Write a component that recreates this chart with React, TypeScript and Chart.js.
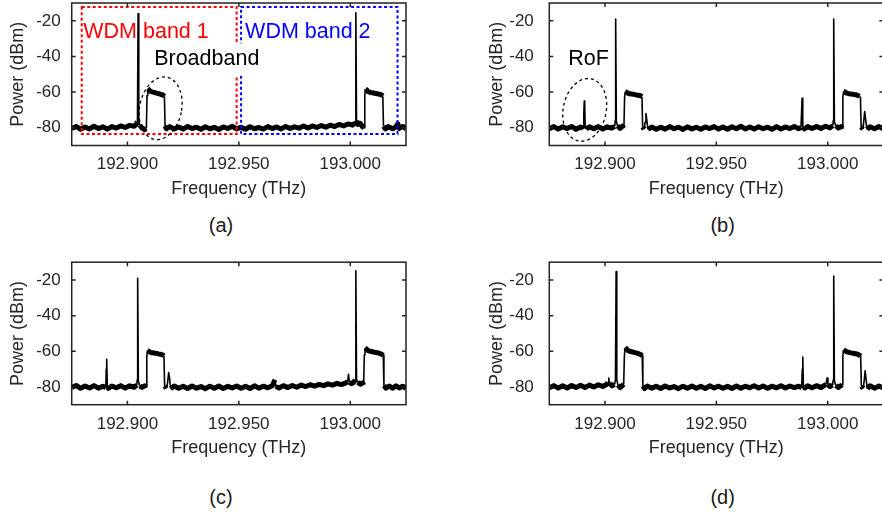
import React, { useEffect, useRef } from 'react';
import { Chart, registerables } from 'chart.js';

Chart.register(...registerables);

const FONT = '"Liberation Sans", Arial, Helvetica, sans-serif';
const TEXT_COLOR = '#262626';

const freqRange = [192.875, 193.025];
const powerRange = [-90, -10];
const freqTicks = [192.9, 192.95, 193.0];
const powerTicks = [-80, -60, -40, -20];

const spectrumA: [number, number][] = [
  [192.875,-80.4],[192.877,-79.3],[192.879,-80.9],[192.881,-79.6],[192.883,-80.7],[192.885,-79.2],[192.887,-80.5],[192.889,-79.5],[192.891,-80.8],[192.893,-79.4],[192.895,-80.2],[192.897,-79.0],[192.899,-79.9],[192.901,-78.7],[192.903,-79.2],[192.904,-78.2],
  [192.9045,-76.5],[192.9048,-16],[192.9051,-76],[192.9056,-78.5],[192.9065,-80.2],[192.9078,-81],[192.9085,-80.5],
  [192.9088,-62],[192.9091,-58.2],[192.9096,-58.6],[192.9103,-59.6],[192.911,-59.9],[192.912,-60.2],[192.913,-60.6],[192.914,-60.9],[192.915,-61.3],[192.916,-61.7],[192.9166,-62.4],
  [192.9169,-79],[192.9175,-80.6],[192.919,-79.4],[192.921,-80.7],[192.923,-79.6],[192.925,-80.8],[192.927,-79.3],[192.929,-80.5],[192.931,-79.7],[192.933,-80.9],[192.935,-79.5],[192.937,-80.6],[192.939,-79.8],[192.941,-81.0],[192.943,-79.6],[192.945,-80.4],[192.947,-79.2],[192.949,-80.7],[192.951,-79.7],[192.953,-80.9],[192.955,-79.5],[192.957,-80.6],[192.959,-79.9],[192.961,-80.8],[192.963,-79.4],[192.965,-80.5],[192.967,-79.6],[192.969,-80.7],[192.971,-79.3],[192.973,-80.4],[192.975,-79.5],[192.977,-80.3],[192.979,-79.1],[192.981,-80.2],[192.983,-79.0],[192.985,-79.9],[192.987,-78.8],[192.989,-79.7],[192.991,-78.6],[192.993,-79.4],[192.995,-78.2],[192.997,-79.0],[192.999,-77.9],[193.001,-78.6],[193.002,-77.5],
  [193.0022,-76.5],[193.0025,-15.5],[193.0028,-76],[193.0034,-78.2],[193.0045,-77.6],[193.0055,-79.5],[193.0062,-80.2],
  [193.0065,-62],[193.0068,-58.3],[193.0074,-58.8],[193.008,-59.8],[193.009,-60.2],[193.010,-60.4],[193.011,-60.7],[193.012,-60.9],[193.013,-61.2],[193.014,-61.6],[193.0146,-62.3],
  [193.0149,-79.2],[193.0158,-80.7],[193.017,-79.4],[193.019,-80.6],[193.0205,-79.5],[193.0213,-77.8],[193.022,-80.4],[193.0235,-79.3],[193.025,-80.5],
];

const spectrumB: [number, number][] = [
  [192.875,-80.6],[192.877,-79.4],[192.879,-80.8],[192.881,-79.5],[192.883,-80.5],[192.885,-79.3],[192.887,-80.9],[192.889,-79.6],[192.8902,-80.4],
  [192.8905,-72],[192.8907,-65],[192.8909,-67],[192.8911,-79.5],
  [192.8915,-80.7],[192.893,-79.5],[192.895,-80.6],[192.897,-79.4],[192.899,-80.8],[192.901,-79.5],[192.903,-80.3],[192.9044,-79.2],
  [192.9046,-76],[192.9048,-19],[192.9051,-76.5],[192.9056,-79],[192.9068,-80.4],[192.9078,-79.2],[192.9085,-80.3],
  [192.9088,-63],[192.9091,-59.8],[192.9097,-60],[192.9104,-60.8],[192.911,-61],[192.912,-61.1],[192.913,-61.3],[192.914,-61.6],[192.915,-61.8],[192.916,-62.1],[192.9166,-62.6],
  [192.9169,-79.5],[192.9176,-80.8],[192.918,-77],[192.9184,-72],[192.9188,-76],[192.9193,-81],[192.921,-79.6],[192.923,-80.9],[192.925,-79.7],[192.927,-80.8],[192.929,-79.4],[192.931,-80.6],[192.933,-79.7],[192.935,-81.0],[192.937,-79.5],[192.939,-80.7],[192.941,-79.8],[192.943,-80.9],[192.945,-79.6],[192.947,-80.5],[192.949,-79.4],[192.951,-80.8],[192.953,-79.6],[192.955,-80.9],[192.957,-79.5],[192.959,-80.6],[192.961,-79.2],[192.963,-80.7],[192.965,-79.6],[192.967,-80.8],[192.969,-79.5],[192.971,-80.6],[192.973,-79.7],[192.975,-80.9],[192.977,-79.4],[192.979,-80.7],[192.981,-79.6],[192.983,-80.5],[192.985,-79.3],[192.987,-80.6],[192.988,-79.8],
  [192.9883,-70],[192.9885,-63.5],[192.9887,-66],[192.9889,-79.5],
  [192.9895,-80.7],[192.991,-79.4],[192.993,-80.5],[192.995,-79.3],[192.997,-80.4],[192.999,-79.2],[193.001,-80.1],[193.0023,-78.8],
  [193.0025,-76],[193.0027,-19],[193.003,-76.5],[193.0036,-79],[193.0048,-80.2],[193.006,-79.4],[193.0065,-80.4],
  [193.0068,-63],[193.0071,-59.7],[193.0077,-59.9],[193.0085,-60.6],[193.0095,-60.9],[193.0105,-61.1],[193.0115,-61.3],[193.0125,-61.5],[193.0135,-61.9],[193.0143,-62.4],[193.0147,-63],
  [193.015,-79.6],[193.0158,-80.8],[193.0162,-76],[193.0166,-71],[193.017,-75],[193.0176,-80.9],[193.019,-79.5],[193.021,-80.6],[193.023,-79.4],[193.025,-80.7],
];

const spectrumC: [number, number][] = [
  [192.875,-80.3],[192.877,-79.2],[192.879,-80.8],[192.881,-79.5],[192.883,-80.6],[192.885,-79.3],[192.887,-80.7],[192.889,-79.6],[192.8903,-80.5],
  [192.8905,-70],[192.8906,-68],[192.8908,-64.5],[192.891,-79.5],
  [192.8915,-80.8],[192.893,-79.5],[192.895,-80.5],[192.897,-79.3],[192.899,-80.7],[192.901,-79.4],[192.903,-80.2],[192.9042,-78.9],
  [192.9044,-76],[192.9046,-19],[192.9049,-76.5],[192.9055,-79.5],[192.9065,-80.3],[192.9077,-79.4],[192.9084,-80.2],
  [192.9087,-63],[192.909,-59.5],[192.9096,-59.9],[192.9103,-60.6],[192.911,-60.9],[192.912,-61],[192.913,-61.2],[192.914,-61.5],[192.915,-61.7],[192.9158,-62],[192.9164,-62.6],
  [192.9167,-79.5],[192.9175,-80.8],[192.918,-78],[192.9185,-72],[192.9189,-75],[192.9194,-81],[192.921,-79.5],
  [192.923,-80.8],[192.925,-79.6],[192.927,-80.9],[192.929,-79.5],[192.931,-80.7],[192.933,-79.8],[192.935,-81.0],[192.937,-79.6],[192.939,-80.8],[192.941,-79.5],[192.943,-80.9],[192.945,-79.7],[192.947,-80.6],[192.949,-79.5],[192.951,-80.8],[192.953,-79.7],[192.955,-80.9],[192.957,-79.4],[192.959,-80.7],[192.961,-79.6],[192.963,-80.5],[192.965,-79.4],[192.9662,-76],[192.9665,-79.8],[192.968,-80.6],[192.970,-79.3],[192.972,-80.4],[192.974,-79.2],[192.976,-80.2],[192.978,-79.0],[192.980,-79.8],[192.982,-78.8],[192.984,-79.6],[192.986,-78.6],[192.988,-79.3],[192.990,-78.3],[192.992,-79.0],[192.994,-78.0],[192.996,-78.7],[192.998,-77.8],[192.9988,-77],[192.9992,-73],[192.9996,-77.5],[193.0005,-78.2],[193.0015,-77.6],
  [193.0022,-76],[193.0025,-14.8],[193.0028,-75.5],[193.0033,-77.5],[193.0045,-78.5],[193.0055,-77.8],[193.006,-79],
  [193.0063,-62],[193.0066,-58.2],[193.0072,-58.7],[193.008,-59.6],[193.009,-60],[193.010,-60.3],[193.011,-60.6],[193.012,-60.8],[193.013,-61.1],[193.014,-61.6],[193.0148,-62.4],
  [193.0151,-79.3],[193.016,-80.7],[193.0175,-79.5],[193.019,-80.8],[193.0205,-79.4],[193.022,-80.6],[193.0235,-79.6],[193.025,-80.8],
];

const spectrumD: [number, number][] = [
  [192.875,-80.5],[192.877,-79.3],[192.879,-80.7],[192.881,-79.4],[192.883,-80.6],[192.885,-79.2],[192.887,-80.4],[192.889,-79.1],[192.891,-80.3],[192.893,-79.0],[192.895,-80.1],[192.897,-78.8],[192.899,-79.8],[192.9008,-78.5],[192.9014,-77.5],[192.9017,-75],[192.902,-78],[192.9032,-79.4],[192.9043,-78.6],
  [192.9047,-76],[192.905,-15.3],[192.9053,-76],[192.9058,-79],[192.9068,-80.4],[192.9078,-79.3],[192.9084,-78.5],
  [192.9087,-63],[192.909,-58],[192.9096,-58.6],[192.9103,-59.6],[192.911,-60],[192.912,-60.3],[192.913,-60.6],[192.914,-60.9],[192.915,-61.3],[192.916,-61.8],[192.9167,-62.5],
  [192.917,-79.5],[192.9178,-80.9],[192.919,-79.5],[192.921,-80.7],[192.923,-79.6],[192.925,-80.9],[192.927,-79.5],[192.929,-80.6],[192.931,-79.8],[192.933,-81.0],[192.935,-79.6],[192.937,-80.7],[192.939,-79.5],[192.941,-80.8],[192.943,-79.7],[192.945,-80.9],[192.947,-79.4],[192.949,-80.6],[192.951,-79.6],[192.953,-80.8],[192.955,-79.7],[192.957,-80.9],[192.959,-79.5],[192.961,-80.7],[192.963,-79.6],[192.965,-80.5],[192.967,-79.4],[192.969,-80.6],[192.971,-79.5],[192.973,-80.8],[192.975,-79.6],[192.977,-80.5],[192.979,-79.3],[192.981,-80.6],[192.983,-79.5],[192.985,-80.4],[192.987,-79.6],[192.9883,-80.5],
  [192.9886,-70],[192.9887,-66],[192.9889,-63.2],[192.9891,-79.5],
  [192.9897,-80.6],[192.991,-79.4],[192.993,-80.5],[192.995,-79.3],[192.997,-80.4],[192.9985,-79.2],[192.9993,-78.5],[192.9997,-75],[193.0001,-78.8],[193.001,-79.8],[193.0022,-79],
  [193.0025,-76],[193.0027,-17.8],[193.003,-76.5],[193.0036,-79.2],[193.0048,-80.3],[193.0058,-79.4],[193.0065,-78.8],
  [193.0068,-63],[193.0071,-59.2],[193.0077,-59.6],[193.0085,-60.3],[193.0095,-60.6],[193.0105,-60.9],[193.0115,-61.1],[193.0125,-61.4],[193.0135,-61.7],[193.0143,-62.2],[193.0148,-62.8],
  [193.0151,-79.6],[193.016,-80.8],[193.0164,-76],[193.0168,-71],[193.0172,-75.5],[193.0178,-81],[193.019,-79.4],[193.021,-80.7],[193.023,-79.5],[193.025,-80.6],
];

type Box = { x0: number; x1: number; y0: number; y1: number; color: string };
type Label = { text: string; x: number; y: number; color: string; align: CanvasTextAlign; bg?: boolean };
type Oval = { x: number; y: number; rx: number; ry: number; rot: number };
type Decor = { boxes: Box[]; labels: Label[]; ovals: Oval[] };

const decorA: Decor = {
  boxes: [
    { x0: 192.8795, x1: 192.949, y0: -83.5, y1: -12.2, color: '#ff0000' },
    { x0: 192.951, x1: 193.0212, y0: -83.5, y1: -12.2, color: '#0000ff' },
  ],
  labels: [
    { text: 'WDM band 1', x: 192.8802, y: -26.4, color: '#ff0000', align: 'left' },
    { text: 'WDM band 2', x: 192.9528, y: -26.4, color: '#0000ff', align: 'left' },
    { text: 'Broadband', x: 192.9356, y: -41.6, color: '#000000', align: 'center', bg: true },
  ],
  ovals: [{ x: 192.9149, y: -69.1, rx: 21, ry: 31.7, rot: 0.2 }],
};
const decorB: Decor = {
  boxes: [],
  labels: [{ text: 'RoF', x: 192.8926, y: -41.6, color: '#000000', align: 'center' }],
  ovals: [{ x: 192.8909, y: -70, rx: 21.5, ry: 31.7, rot: 0.2 }],
};
const decorNone: Decor = { boxes: [], labels: [], ovals: [] };

const decorPlugin = {
  id: 'decor',
  afterDatasetsDraw(chart: any, _args: any, opts: any) {
    const d: Decor = opts.data;
    if (!d) return;
    const { ctx, scales } = chart;
    const xs = scales.x, ys = scales.y;
    ctx.save();
    for (const b of d.boxes) {
      const x0 = xs.getPixelForValue(b.x0), x1 = xs.getPixelForValue(b.x1);
      const y0 = ys.getPixelForValue(b.y0), y1 = ys.getPixelForValue(b.y1);
      ctx.strokeStyle = b.color;
      ctx.lineWidth = 2;
      ctx.setLineDash([3, 2.5]);
      ctx.strokeRect(x0, y1, x1 - x0, y0 - y1);
    }
    ctx.setLineDash([]);
    ctx.font = '21.5px ' + FONT;
    ctx.textBaseline = 'middle';
    for (const l of d.labels) {
      const px = xs.getPixelForValue(l.x), py = ys.getPixelForValue(l.y);
      const w = ctx.measureText(l.text).width;
      if (l.bg) {
        const left = l.align === 'center' ? px - w / 2 : px;
        ctx.fillStyle = '#ffffff';
        ctx.fillRect(left - 3, py - 16, w + 6, 32);
      }
      ctx.fillStyle = l.color;
      ctx.textAlign = l.align;
      ctx.fillText(l.text, px, py);
    }
    for (const o of d.ovals) {
      const px = xs.getPixelForValue(o.x), py = ys.getPixelForValue(o.y);
      ctx.strokeStyle = '#000000';
      ctx.lineWidth = 1.3;
      ctx.setLineDash([3, 3]);
      ctx.beginPath();
      ctx.ellipse(px, py, o.rx, o.ry, o.rot, 0, Math.PI * 2);
      ctx.stroke();
    }
    ctx.restore();
  },
  afterDraw(chart: any) {
    const { ctx, chartArea, scales } = chart;
    const { left, right, top, bottom } = chartArea;
    ctx.save();
    ctx.strokeStyle = '#222222';
    ctx.lineWidth = 1.5;
    ctx.setLineDash([]);
    ctx.strokeRect(left, top, right - left, bottom - top);
    ctx.beginPath();
    const tl = 4;
    for (const v of freqTicks) {
      const px = scales.x.getPixelForValue(v);
      ctx.moveTo(px, bottom); ctx.lineTo(px, bottom - tl);
      ctx.moveTo(px, top); ctx.lineTo(px, top + tl);
    }
    for (const v of powerTicks) {
      const py = scales.y.getPixelForValue(v);
      ctx.moveTo(left, py); ctx.lineTo(left + tl, py);
      ctx.moveTo(right, py); ctx.lineTo(right - tl, py);
    }
    ctx.stroke();
    ctx.restore();
  },
};

type PanelProps = {
  spectrum: [number, number][];
  decor: Decor;
  left: number; top: number; width: number; height: number;
  padTop: number; padRight: number;
  yAxisWidth: number; yTickPad: number; yTitlePad: number;
  xAxisHeight: number;
};

function Panel(p: PanelProps) {
  const ref = useRef<HTMLCanvasElement | null>(null);
  useEffect(() => {
    if (!ref.current) return;
    const segWidth = (ctx: any) => {
      const dx = Math.abs(ctx.p1.x - ctx.p0.x);
      const dy = Math.abs(ctx.p1.y - ctx.p0.y);
      return dx < 1 || dy > 3 * dx ? 1.6 : 5;
    };
    const chart = new Chart(ref.current, {
      type: 'line',
      data: {
        datasets: [{
          data: p.spectrum.map(([x, y]) => ({ x, y })),
          borderColor: '#000000',
          borderWidth: 5,
          pointRadius: 0,
          fill: false,
          tension: 0,
          borderJoinStyle: 'round',
          borderCapStyle: 'butt',
          segment: { borderWidth: segWidth },
        } as any],
      },
      options: {
        responsive: false,
        animation: false,
        devicePixelRatio: 1,
        events: [],
        layout: { padding: { top: p.padTop, right: p.padRight, left: 0, bottom: 0 }, autoPadding: false } as any,
        plugins: {
          legend: { display: false },
          tooltip: { enabled: false },
          title: { display: false },
          decor: { data: p.decor },
        } as any,
        scales: {
          x: {
            type: 'linear',
            min: freqRange[0],
            max: freqRange[1],
            grid: { display: false, drawTicks: false },
            border: { display: false },
            afterBuildTicks: (s: any) => { s.ticks = freqTicks.map((v) => ({ value: v })); },
            afterFit: (s: any) => { s.height = p.xAxisHeight; s.paddingLeft = 0; s.paddingRight = 0; },
            ticks: {
              padding: 9,
              autoSkip: false,
              maxRotation: 0,
              color: TEXT_COLOR,
              font: { family: FONT, size: 17 },
              callback: (v: any) => Number(v).toFixed(3),
            },
            title: {
              display: true,
              text: 'Frequency (THz)',
              color: TEXT_COLOR,
              font: { family: FONT, size: 18 },
              padding: { top: 0, bottom: 2.2 },
            },
          },
          y: {
            type: 'linear',
            min: powerRange[0],
            max: powerRange[1],
            grid: { display: false, drawTicks: false },
            border: { display: false },
            afterBuildTicks: (s: any) => { s.ticks = powerTicks.map((v) => ({ value: v })); },
            afterFit: (s: any) => { s.width = p.yAxisWidth; s.paddingTop = 0; s.paddingBottom = 0; },
            ticks: {
              padding: p.yTickPad,
              color: TEXT_COLOR,
              font: { family: FONT, size: 17 },
              callback: (v: any) => String(v),
            },
            title: {
              display: true,
              text: 'Power (dBm)',
              color: TEXT_COLOR,
              font: { family: FONT, size: 18 },
              padding: { top: p.yTitlePad, bottom: 0 },
            },
          },
        },
      } as any,
      plugins: [decorPlugin],
    });
    return () => chart.destroy();
  }, []);
  return (
    <canvas
      ref={ref}
      width={p.width}
      height={p.height}
      style={{ position: 'absolute', left: p.left, top: p.top, width: p.width, height: p.height, display: 'block' }}
    />
  );
}

const captionStyle = (x: number, y: number): React.CSSProperties => ({
  position: 'absolute',
  left: x,
  top: y,
  transform: 'translate(-50%, -50%)',
  font: '20px ' + FONT,
  lineHeight: 1,
  color: '#1a1a1a',
  whiteSpace: 'nowrap',
});

export default function App() {
  return (
    <div style={{ position: 'fixed', left: 0, top: 0, width: 882, height: 515, overflow: 'hidden', background: '#ffffff' }}>
      <Panel spectrum={spectrumA} decor={decorA} left={0} top={0} width={441} height={202}
        padTop={3} padRight={35} yAxisWidth={71.7} yTickPad={11} yTitlePad={7.5} xAxisHeight={56.5} />
      <Panel spectrum={spectrumB} decor={decorB} left={441} top={0} width={445} height={202}
        padTop={3} padRight={2.6} yAxisWidth={108.3} yTickPad={15.5} yTitlePad={45.5} xAxisHeight={56.5} />
      <Panel spectrum={spectrumC} decor={decorNone} left={0} top={259} width={441} height={202}
        padTop={3.2} padRight={35} yAxisWidth={71.7} yTickPad={11} yTitlePad={7.5} xAxisHeight={56.3} />
      <Panel spectrum={spectrumD} decor={decorNone} left={441} top={259} width={445} height={202}
        padTop={3.2} padRight={2.6} yAxisWidth={108.3} yTickPad={15.5} yTitlePad={45.5} xAxisHeight={56.3} />
      <div style={captionStyle(221, 224.5)}>(a)</div>
      <div style={captionStyle(722.7, 224.5)}>(b)</div>
      <div style={captionStyle(221, 497)}>(c)</div>
      <div style={captionStyle(722.7, 497)}>(d)</div>
    </div>
  );
}
